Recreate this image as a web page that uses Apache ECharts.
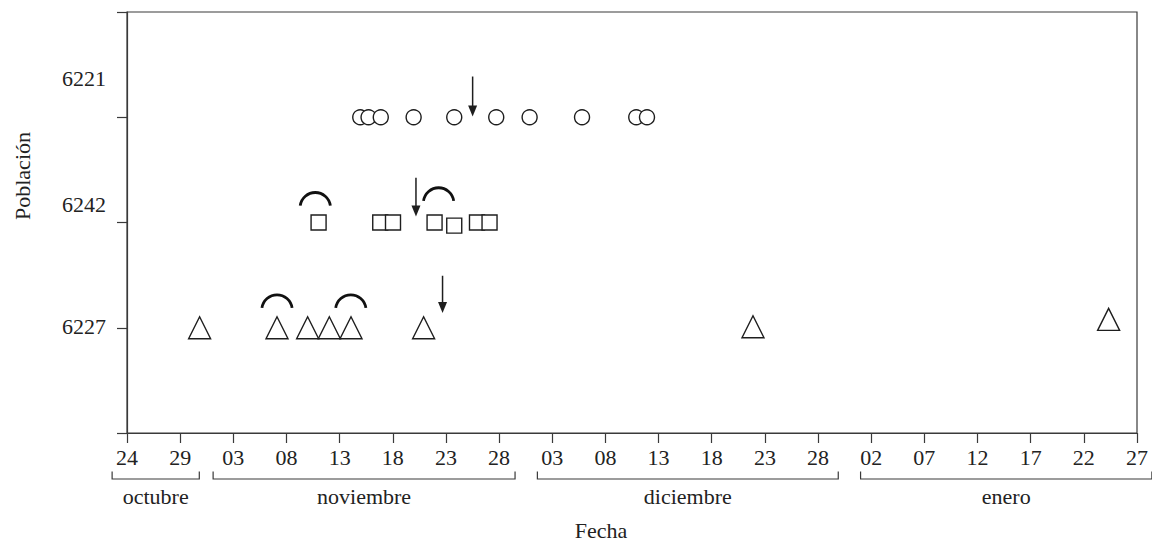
<!DOCTYPE html>
<html>
<head>
<meta charset="utf-8">
<script src="https://cdn.jsdelivr.net/npm/echarts@6/dist/echarts.min.js"></script>
<style>html,body{margin:0;padding:0;background:#fff}#chart{width:1152px;height:541px}</style>
</head>
<body>
<div id="chart"></div>
<script>
// x values are days counted from 24 October
const xTickLabels = ['24','29','03','08','13','18','23','28','03','08','13','18','23','28','02','07','12','17','22','27'];
const rowLabels = ['', '6227', '6242', '6221', ''];
const monthNames = ['octubre', 'noviembre', 'diciembre', 'enero'];
const monthFrom = [-1.4, 8.1, 38.6, 69.0];
const monthTo = [6.8, 36.5, 66.9, 96.4];

// Población 6221 (circles)
const p6221Days = [21.94, 22.72, 23.87, 26.96, 30.78, 34.73, 37.87, 42.80, 47.90, 48.91];
const p6221Rows = [3, 3, 3, 3, 3, 3, 3, 3, 3, 3];
// Población 6242 (squares)
const p6242Days = [18.02, 23.82, 25.02, 28.93, 30.78, 32.92, 34.10];
const p6242Rows = [2, 2, 2, 2, 1.97, 2, 2];
// Población 6227 (triangles)
const p6227Days = [6.83, 14.11, 16.99, 19.03, 21.07, 27.90, 58.88, 92.33];
const p6227Rows = [1, 1, 1, 1, 1, 1, 1.01, 1.08];

// arrows: day, top, tip
const arrowDays = [32.51, 27.18, 29.68];
const arrowTops = [3.387, 2.424, 1.494];
const arrowTips = [3.007, 2.057, 1.140];
// arcs (caps): day, apex
const capDays = [17.71, 29.31, 14.11, 21.05];
const capApex = [2.285, 2.330, 1.313, 1.313];

const FONT = '"Liberation Serif", "Times New Roman", serif';
const FS = 22;
const INK = '#1e1e1e';
const AXIS = '#3a3a3a';

const zip = (a, b) => a.map((v, i) => [v, b[i]]);

const chart = echarts.init(document.getElementById('chart'), null, {renderer: 'svg'});
chart.setOption({
  animation: false,
  backgroundColor: '#fff',
  grid: {left: 127, right: 15, top: 12, bottom: 108, show: true, borderColor: AXIS, borderWidth: 1.2, backgroundColor: 'transparent'},
  xAxis: {
    type: 'value', min: 0, max: 95, interval: 5,
    axisLine: {show: true, lineStyle: {color: AXIS, width: 1.2}},
    axisTick: {show: true, length: 10, inside: false, lineStyle: {color: AXIS, width: 1.2}},
    splitLine: {show: false},
    axisLabel: {
      margin: 13, color: '#222', fontFamily: FONT, fontSize: FS,
      showMinLabel: true, showMaxLabel: true,
      formatter: v => xTickLabels[Math.round(v / 5)] || ''
    }
  },
  yAxis: {
    type: 'value', min: 0, max: 4, interval: 1,
    axisLine: {show: true, lineStyle: {color: AXIS, width: 1.2}},
    axisTick: {show: true, length: 10, inside: false, lineStyle: {color: AXIS, width: 1.2}},
    splitLine: {show: false},
    axisLabel: {
      margin: 21, color: '#222', fontFamily: FONT, fontSize: FS,
      formatter: v => { const i = Math.round(v); const t = rowLabels[i]; return t ? '{r' + i + '|' + t + '}' : ''; },
      rich: {
        r1: {fontFamily: FONT, fontSize: FS, color: '#222', padding: [0, 0, 3, 0]},
        r2: {fontFamily: FONT, fontSize: FS, color: '#222', padding: [0, 0, 37, 0]},
        r3: {fontFamily: FONT, fontSize: FS, color: '#222', padding: [0, 0, 78, 0]}
      }
    }
  },
  graphic: [
    {type: 'text', x: 22, y: 176, rotation: Math.PI / 2,
     style: {text: 'Población', align: 'center', verticalAlign: 'middle', font: FS + 'px ' + FONT, fill: '#222'}},
    {type: 'text', x: 601, y: 530,
     style: {text: 'Fecha', align: 'center', verticalAlign: 'middle', font: FS + 'px ' + FONT, fill: '#222'}}
  ],
  series: [
    {
      type: 'custom', name: 'meses', silent: true, clip: false,
      data: monthFrom.map((f, i) => [f, monthTo[i]]),
      encode: {x: [0, 1]},
      renderItem: (params, api) => {
        const a = api.coord([api.value(0), 0]);
        const b = api.coord([api.value(1), 0]);
        const y0 = a[1];
        return {type: 'group', children: [
          {type: 'polyline', shape: {points: [[a[0], y0 + 38.5], [a[0], y0 + 46], [b[0], y0 + 46], [b[0], y0 + 38.5]]},
           style: {stroke: AXIS, lineWidth: 1.2, fill: 'none'}},
          {type: 'text', style: {text: monthNames[params.dataIndex], x: (a[0] + b[0]) / 2, y: y0 + 63,
            align: 'center', verticalAlign: 'middle', font: FS + 'px ' + FONT, fill: '#222'}}
        ]};
      }
    },
    {
      type: 'scatter', name: '6221', data: zip(p6221Days, p6221Rows),
      symbol: 'circle', symbolSize: 15,
      itemStyle: {color: '#fff', borderColor: INK, borderWidth: 1.4, opacity: 1}
    },
    {
      type: 'scatter', name: '6242', data: zip(p6242Days, p6242Rows),
      symbol: 'rect', symbolSize: 15,
      itemStyle: {color: '#fff', borderColor: INK, borderWidth: 1.4, opacity: 1}
    },
    {
      type: 'scatter', name: '6227', data: zip(p6227Days, p6227Rows),
      symbol: 'triangle', symbolSize: [22, 22],
      itemStyle: {color: '#fff', borderColor: INK, borderWidth: 1.4, opacity: 1}
    },
    {
      type: 'custom', name: 'flechas', silent: true, clip: false,
      data: arrowDays.map((d, i) => [d, arrowTops[i], arrowTips[i]]),
      encode: {x: 0, y: [1, 2]},
      renderItem: (params, api) => {
        const a = api.coord([api.value(0), api.value(1)]);
        const b = api.coord([api.value(0), api.value(2)]);
        return {type: 'group', children: [
          {type: 'line', shape: {x1: a[0], y1: a[1], x2: b[0], y2: b[1] - 6}, style: {stroke: INK, lineWidth: 1.5}},
          {type: 'polygon', shape: {points: [[b[0], b[1]], [b[0] - 4.5, b[1] - 11], [b[0] + 4.5, b[1] - 11]]}, style: {fill: INK}}
        ]};
      }
    },
    {
      type: 'custom', name: 'arcos', silent: true, clip: false,
      data: capDays.map((d, i) => [d, capApex[i]]),
      encode: {x: 0, y: 1},
      renderItem: (params, api) => {
        const p = api.coord([api.value(0), api.value(1)]);
        const r = 15.2;
        return {type: 'arc', shape: {cx: p[0], cy: p[1] + r, r: r,
          startAngle: 188 * Math.PI / 180, endAngle: 352 * Math.PI / 180, clockwise: true},
          style: {stroke: '#111', lineWidth: 2.8, fill: 'none'}};
      }
    }
  ]
});
</script>
</body>
</html>
